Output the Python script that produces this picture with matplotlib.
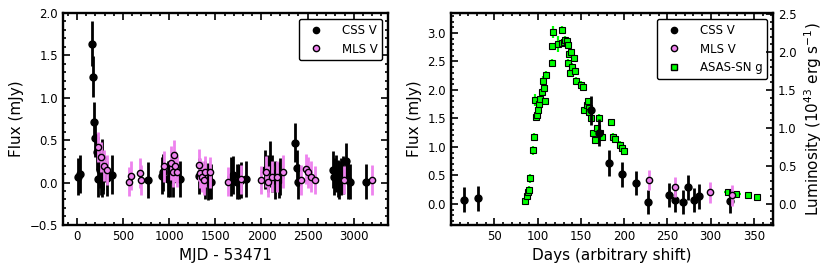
import numpy as np
import matplotlib
matplotlib.use("Agg")
import matplotlib.pyplot as plt
from matplotlib.lines import Line2D
from matplotlib.ticker import AutoMinorLocator, MultipleLocator

# CSS V photometry (MJD - 53471, mJy)
css_mjd = [15, 31, 162, 171, 183, 198, 214, 228, 252, 259, 268, 274, 281, 287, 322,
           383, 769, 921, 935, 986, 1011, 1040, 1116, 1321, 1390, 1419, 1444, 1455,
           1668, 1690, 1737, 1755, 1776, 1838, 2040, 2069, 2090, 2115, 2144, 2188, 2202,
           2368, 2386, 2397, 2779, 2790, 2809, 2826, 2845, 2862, 2880, 2917, 2935, 2964,
           3134]
css_flux = [0.07, 0.10, 1.64, 1.25, 0.72, 0.52, 0.36, 0.04, 0.15, 0.07, 0.04, 0.29, 0.07, 0.13, 0.05,
            0.09, 0.03, 0.08, 0.12, 0.04, 0.04, 0.04, 0.04, 0.08, 0.03, 0.01, 0.01, 0.01,
            0.07, 0.09, 0.01, 0.01, 0.03, 0.04, 0.15, 0.11, 0.22, 0.11, 0.03, 0.03, 0.07,
            0.47, 0.17, 0.01, 0.15, 0.07, 0.11, 0.05, 0.03, 0.07, 0.09, 0.25, 0.03, 0.01,
            0.01]
css_err = [0.22, 0.22, 0.26, 0.24, 0.23, 0.22, 0.21, 0.21, 0.21, 0.22, 0.21, 0.22, 0.21, 0.22, 0.21,
           0.23, 0.21, 0.22, 0.22, 0.21, 0.21, 0.21, 0.21, 0.21, 0.22, 0.22, 0.21, 0.21,
           0.23, 0.22, 0.21, 0.21, 0.21, 0.21, 0.23, 0.22, 0.27, 0.22, 0.22, 0.21, 0.22,
           0.23, 0.21, 0.21, 0.22, 0.22, 0.22, 0.22, 0.22, 0.22, 0.22, 0.22, 0.22, 0.21,
           0.21]

# MLS V photometry
mls_mjd = [229, 259, 299, 325, 570, 592, 679, 700, 939, 1022, 1040, 1054, 1065, 1090,
           1328, 1330, 1357, 1375, 1386, 1444, 1639, 1780, 1993, 2051, 2072, 2112, 2170,
           2231, 2430, 2484, 2502, 2542, 2585, 2899, 3195]
mls_flux = [0.42, 0.30, 0.20, 0.15, 0.01, 0.08, 0.11, 0.03, 0.19, 0.23, 0.13, 0.32, 0.19, 0.13,
            0.21, 0.11, 0.07, 0.03, 0.13, 0.12, 0.01, 0.04, 0.03, 0.13, 0.01, 0.07, 0.07,
            0.13, 0.03, 0.16, 0.12, 0.07, 0.03, 0.03, 0.03]
mls_err = [0.18, 0.18, 0.18, 0.18, 0.17, 0.17, 0.18, 0.18, 0.18, 0.2, 0.18, 0.18, 0.18, 0.18,
           0.19, 0.18, 0.18, 0.18, 0.18, 0.18, 0.17, 0.17, 0.17, 0.18, 0.18, 0.18, 0.18,
           0.2, 0.18, 0.18, 0.18, 0.18, 0.17, 0.17, 0.18]

# ASAS-SN g photometry (days, arbitrary shift)
asas_day = [85.9, 87.5, 88.6, 90.2, 91.3, 95.2, 96.0, 97.1, 98.3, 99.4, 100.6, 102.0, 103.3,
            104.8, 106.4, 107.5, 109.0, 110.2, 116.4, 116.8, 118.3, 123.4, 128.0, 128.8,
            130.7, 131.8, 133.8, 135.0, 135.3, 136.5, 137.6, 138.8, 139.6, 141.9, 142.7,
            144.2, 150.4, 152.7, 154.2, 156.6, 158.1, 158.9, 159.7, 162.0, 163.9, 165.8,
            168.5, 170.5, 172.0, 174.3, 185.1, 187.5, 189.0, 194.8, 197.5, 199.4,
            320.0, 329.0, 343.0, 353.0]
asas_flux = [0.05, 0.14, 0.20, 0.25, 0.45, 0.94, 1.18, 1.82, 1.52, 1.56, 1.64, 1.76, 1.84,
             1.97, 2.16, 2.04, 1.80, 2.27, 2.48, 2.77, 3.02, 2.80, 2.82, 3.05,
             2.84, 2.88, 2.86, 2.78, 2.48, 2.63, 2.30, 2.66, 2.41, 2.56, 2.34,
             2.16, 2.09, 2.05, 1.64, 1.74, 1.80, 1.68, 1.62, 1.51, 1.24, 1.12,
             1.33, 1.51, 1.24, 1.18, 1.43, 1.18, 1.14, 1.04, 0.98, 0.93,
             0.21, 0.18, 0.16, 0.12]
asas_err = [0.04, 0.05, 0.05, 0.06, 0.08, 0.08, 0.07, 0.10, 0.06, 0.06, 0.06, 0.06, 0.06,
            0.06, 0.08, 0.06, 0.06, 0.06, 0.06, 0.06, 0.10, 0.14, 0.06, 0.07,
            0.06, 0.06, 0.06, 0.06, 0.06, 0.06, 0.06, 0.06, 0.06, 0.06, 0.06,
            0.06, 0.06, 0.06, 0.06, 0.06, 0.06, 0.06, 0.06, 0.06, 0.06, 0.06,
            0.06, 0.06, 0.06, 0.06, 0.06, 0.06, 0.06, 0.06, 0.06, 0.06,
            0.03, 0.03, 0.03, 0.03]
asas_xerr = [0] * 56 + [5, 6, 0, 0]

FLUX_TO_LUM = 0.75  # 10^43 erg/s per mJy

plt.rcParams["font.family"] = "DejaVu Sans"
plt.rcParams["font.size"] = 8.5


def style_axes(ax, right=True):
    for s in ax.spines.values():
        s.set_linewidth(1.7)
    ax.xaxis.set_minor_locator(AutoMinorLocator())
    ax.yaxis.set_minor_locator(AutoMinorLocator())
    ax.tick_params(which="both", direction="in", top=True, right=right, width=1.2)
    ax.tick_params(which="major", length=5, labelsize=8.5)
    ax.tick_params(which="minor", length=2.5)


def legend_handles(with_asas):
    h = [Line2D([], [], ls="none", marker="o", ms=4.5, mfc="black", mec="black", label="CSS V"),
         Line2D([], [], ls="none", marker="o", ms=4.5, mfc="violet", mec="black", label="MLS V")]
    if with_asas:
        h.append(Line2D([], [], ls="none", marker="s", ms=4.5, mfc="lime", mec="black",
                        label="ASAS-SN g"))
    return h


def add_legend(ax, with_asas):
    leg = ax.legend(handles=legend_handles(with_asas), loc="upper right", fontsize=8.5,
                    fancybox=True, framealpha=1, borderaxespad=0.5, handletextpad=1.2)
    leg.get_frame().set_edgecolor("black")
    leg.get_frame().set_linewidth(1.0)


fig = plt.figure(figsize=(8.31, 2.71), dpi=100)
ax1 = fig.add_axes([0.0758, 0.170, 0.391, 0.782])
ax2 = fig.add_axes([0.5427, 0.170, 0.3875, 0.782])

# left panel: full light curve
ax1.errorbar(css_mjd, css_flux, yerr=css_err, fmt="o", ms=5, color="black",
             elinewidth=2.0, capsize=0, zorder=2)
ax1.errorbar(mls_mjd, mls_flux, yerr=mls_err, fmt="o", ms=4.5, mfc="violet", mec="black",
             mew=1.0, ecolor="violet", elinewidth=2.0, capsize=0, zorder=3)
ax1.set_xlim(-150, 3370)
ax1.set_ylim(-0.5, 2.0)
ax1.xaxis.set_major_locator(MultipleLocator(500))
ax1.yaxis.set_major_locator(MultipleLocator(0.5))
ax1.set_xlabel("MJD - 53471", fontsize=11)
ax1.set_ylabel("Flux (mJy)", fontsize=11)
style_axes(ax1)
add_legend(ax1, False)

# right panel: flare with ASAS-SN
sel = [i for i, d in enumerate(css_mjd) if d < 340]
msel = [i for i, d in enumerate(mls_mjd) if d < 340]
ax2.errorbar(asas_day, asas_flux, yerr=asas_err, xerr=asas_xerr, fmt="s", ms=4.5,
             mfc="lime", mec="black", mew=0.8, ecolor="lime", elinewidth=1.6,
             capsize=0, zorder=2)
ax2.errorbar([css_mjd[i] for i in sel], [css_flux[i] for i in sel],
             yerr=[css_err[i] for i in sel], fmt="o", ms=5, color="black",
             elinewidth=2.0, capsize=0, zorder=3)
ax2.errorbar([mls_mjd[i] for i in msel], [mls_flux[i] for i in msel],
             yerr=[mls_err[i] for i in msel], fmt="o", ms=4.5, mfc="violet", mec="black",
             mew=1.0, ecolor="violet", elinewidth=2.0, capsize=0, zorder=4)
ax2.set_xlim(0, 372)
ax2.set_ylim(-0.37, 3.35)
ax2.set_xticks([50, 100, 150, 200, 250, 300, 350])
ax2.yaxis.set_major_locator(MultipleLocator(0.5))
ax2.set_xlabel("Days (arbitrary shift)", fontsize=11)
ax2.set_ylabel("Flux (mJy)", fontsize=11)
style_axes(ax2, right=False)
add_legend(ax2, True)

ax3 = ax2.twinx()
lo, hi = ax2.get_ylim()
ax3.set_ylim(lo * FLUX_TO_LUM, hi * FLUX_TO_LUM)
ax3.yaxis.set_major_locator(MultipleLocator(0.5))
ax3.yaxis.set_minor_locator(AutoMinorLocator())
ax3.tick_params(which="both", direction="in", width=1.2)
ax3.tick_params(which="major", length=5, labelsize=8.5)
ax3.tick_params(which="minor", length=2.5)
ax3.set_ylabel("Luminosity ($10^{43}$ erg s$^{-1}$)", fontsize=11)

fig.savefig("out.png", dpi=100)
